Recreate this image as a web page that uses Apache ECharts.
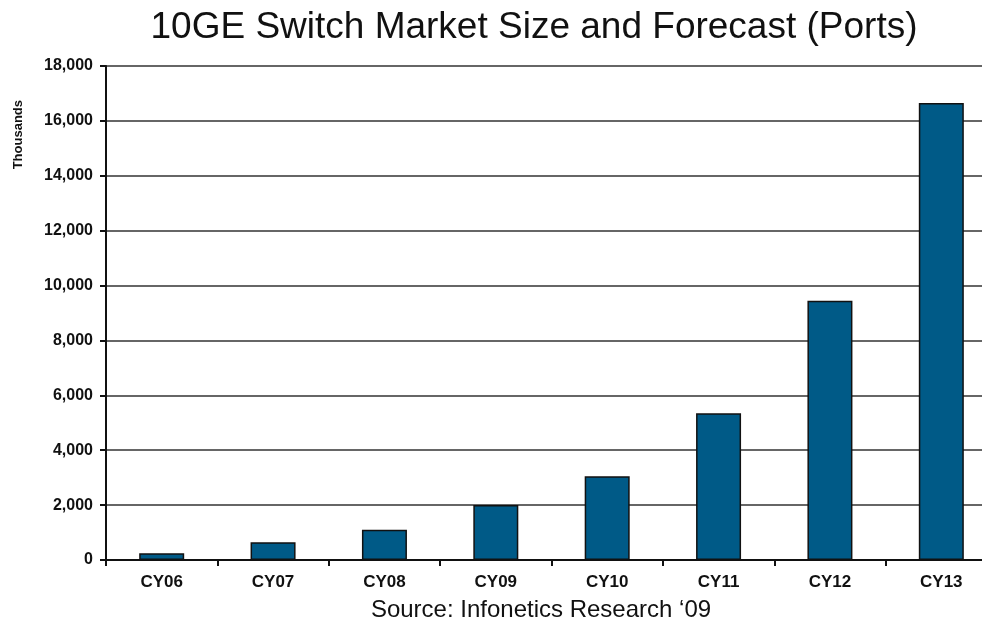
<!DOCTYPE html>
<html><head><meta charset="utf-8">
<script src="https://cdn.jsdelivr.net/npm/echarts@6/dist/echarts.min.js"></script>
<style>html,body{margin:0;padding:0;background:#fff}#c{width:982px;height:618px}</style>
</head><body><div id="c"></div>
<script>
const categories = ['CY06','CY07','CY08','CY09','CY10','CY11','CY12','CY13'];
const ports = [250, 650, 1100, 2000, 3050, 5350, 9450, 16650];
const yTicks = [0, 2000, 4000, 6000, 8000, 10000, 12000, 14000, 16000, 18000];
const chart = echarts.init(document.getElementById('c'));
chart.setOption({
  backgroundColor: '#fff',
  animation: false,
  title: [{
    text: '10GE Switch Market Size and Forecast (Ports)',
    left: 529, top: 4, textAlign: 'center',
    textStyle: {fontFamily: 'Liberation Sans', fontSize: 37, fontWeight: 'normal', color: '#111'}
  }, {
    text: 'Source: Infonetics Research \u201809',
    left: 536, top: 593, textAlign: 'center',
    textStyle: {fontFamily: 'Liberation Sans', fontSize: 24, fontWeight: 'normal', color: '#111'}
  }],
  graphic: [{
    type: 'text', left: 12, top: 100, rotation: Math.PI/2,
    style: {text: 'Thousands', font: 'bold 13px Liberation Sans', fill: '#111'}
  }],
  grid: {left: 106, top: 66, right: -15, height: 494, containLabel: false, outerBoundsMode: 'none'},
  xAxis: {
    type: 'category', data: categories,
    axisLine: {lineStyle: {color: '#111', width: 2}},
    axisTick: {show: true, length: 6, lineStyle: {color: '#111', width: 2}},
    axisLabel: {fontFamily: 'Liberation Sans', fontWeight: 'bold', fontSize: 17, color: '#111', margin: 14}
  },
  yAxis: {
    type: 'value', min: yTicks[0], max: yTicks[yTicks.length-1], interval: 2000,
    axisLine: {show: true, lineStyle: {color: '#111', width: 2}},
    axisTick: {show: true, length: 6, lineStyle: {color: '#111', width: 2}},
    splitLine: {lineStyle: {color: '#333', width: 1.5}},
    axisLabel: {fontFamily: 'Liberation Sans', fontWeight: 'bold', fontSize: 16, color: '#111', margin: 13,
      formatter: v => v.toLocaleString('en-US')}
  },
  series: [{
    type: 'bar', data: ports, barWidth: 45, barCategoryGap: '60%',
    itemStyle: {color: '#005a87', borderColor: '#111', borderWidth: 1.5}
  }]
});
</script></body></html>
